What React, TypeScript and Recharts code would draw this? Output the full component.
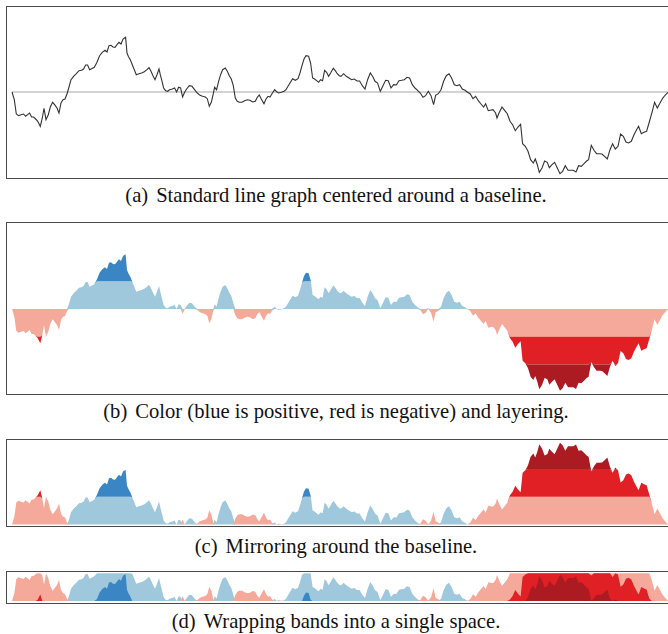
import React from 'react';
import { LineChart, Line, AreaChart, Area, XAxis, YAxis, ReferenceLine } from 'recharts';

// sample positions (time axis) and values
const t = [
  11.7, 14.0, 16.0, 18.3, 20.7, 23.3, 25.3, 27.3, 29.3, 31.3, 33.3, 35.3, 37.3, 40.0, 42.0, 43.7, 45.7, 48.0, 50.0, 52.3,
  54.3, 56.7, 58.7, 60.7, 62.7, 64.7, 66.7, 68.7, 70.7, 73.3, 76.0, 78.7, 81.3, 83.3, 85.3, 87.3, 89.3, 91.3, 94.0, 96.7,
  99.3, 102.0, 104.7, 106.7, 108.7, 110.7, 112.7, 114.7, 116.7, 118.7, 120.7, 122.7, 125.3, 126.7, 128.0, 130.0, 132.0, 134.0, 136.0, 138.7,
  141.3, 144.0, 146.7, 148.7, 150.7, 152.7, 154.7, 156.7, 158.7, 160.0, 161.3, 163.3, 165.3, 167.3, 169.3, 172.0, 174.3, 176.3, 178.3, 180.3,
  182.3, 184.3, 186.3, 189.0, 191.7, 194.3, 197.0, 199.7, 202.3, 205.0, 207.0, 209.0, 211.0, 213.0, 214.3, 216.3, 218.3, 220.3, 222.3, 225.0,
  227.0, 229.0, 231.0, 233.0, 235.0, 237.0, 239.0, 241.7, 244.3, 247.0, 249.7, 252.3, 255.0, 257.0, 259.0, 261.0, 263.7, 265.7, 267.7, 269.7,
  271.7, 274.3, 276.3, 278.3, 281.0, 283.7, 285.7, 287.7, 289.7, 292.3, 295.0, 297.7, 299.7, 301.7, 303.7, 305.7, 308.3, 310.3, 312.3, 314.3,
  316.3, 318.3, 320.3, 322.3, 324.3, 326.3, 328.3, 330.3, 333.0, 335.0, 337.0, 339.0, 340.7, 343.3, 346.0, 348.7, 351.3, 354.0, 356.7, 359.3,
  362.0, 364.7, 367.3, 370.0, 372.7, 374.7, 377.3, 380.0, 382.7, 385.3, 388.0, 390.7, 393.3, 396.0, 398.7, 401.3, 404.0, 406.7, 409.3, 412.0,
  414.7, 417.3, 420.0, 422.7, 425.3, 428.0, 430.7, 433.3, 435.3, 438.0, 440.7, 443.3, 446.0, 448.7, 451.3, 454.0, 456.7, 459.3, 462.0, 464.7,
  467.3, 470.0, 472.7, 475.3, 478.0, 480.7, 483.3, 485.3, 488.0, 490.0, 492.7, 495.3, 496.7, 498.7, 501.7, 504.3, 507.0, 509.7, 512.3, 515.0,
  517.7, 520.3, 522.3, 525.0, 527.7, 530.3, 533.0, 535.0, 537.0, 539.0, 541.7, 544.3, 547.0, 549.0, 551.7, 554.3, 557.0, 559.7, 562.3, 565.0,
  567.7, 570.3, 573.0, 575.7, 578.3, 581.0, 583.7, 586.3, 588.3, 591.0, 593.7, 596.3, 599.0, 601.7, 604.3, 607.0, 609.7, 612.3, 615.0, 617.7,
  620.3, 623.0, 625.7, 628.3, 631.0, 633.7, 636.3, 638.3, 641.0, 643.7, 646.3, 649.0, 651.7, 654.3, 657.0, 659.7, 662.3, 665.0, 667.7,
];

const values = [
  0, -7.7, -22.0, -23.7, -22.7, -22.0, -24.3, -22.7, -21.0, -25.0, -25.0, -27.0, -29.0, -34.3, -26.0, -16.3, -27.7, -22.7, -15.0, -10.3,
  -12.7, -16.0, -21.0, -11.0, -7.7, -7.0, -2.0, 5.0, 12.3, 15.7, 18.3, 21.3, 21.7, 23.0, 27.0, 27.0, 22.3, 23.3, 24.7, 29.7,
  36.3, 39.7, 41.7, 40.0, 46.3, 46.7, 45.0, 44.7, 47.3, 49.7, 48.0, 53.0, 54.7, 39.0, 35.7, 32.3, 27.3, 22.3, 17.3, 18.3,
  19.0, 20.3, 22.3, 24.3, 20.7, 16.3, 12.3, 17.3, 23.0, 17.3, 12.3, 4.0, 1.3, 0.7, 2.3, 3.0, 4.0, 0.0, 4.7, 4.0,
  -5.0, -0.3, 3.0, 6.3, 5.7, 2.3, -1.0, -3.3, -4.3, -5.0, -6.7, -14.3, -10.3, -1.7, 4.7, 2.3, 10.7, 17.3, 22.3, 24.0,
  20.7, 16.3, 13.0, 6.3, -6.0, -9.3, -10.3, -10.3, -8.7, -7.7, -8.3, -10.0, -9.3, -5.3, -3.0, -7.0, -11.7, -7.0, -4.3, -5.0,
  -1.7, 2.3, 0.3, -1.0, -0.3, 0.7, 2.3, 5.7, 9.0, 13.3, 11.7, 13.3, 19.0, 26.3, 33.0, 36.3, 35.7, 29.0, 14.0, 13.0,
  11.3, 9.7, 12.3, 11.3, 21.7, 19.7, 15.7, 19.0, 23.7, 21.3, 18.3, 16.3, 15.7, 18.3, 15.7, 14.0, 12.3, 13.0, 11.0, 11.0,
  6.3, 3.0, 12.3, 19.0, 15.0, 10.7, 9.0, 0.7, 6.3, 11.7, 11.3, 4.0, 7.3, 7.0, 11.3, 11.7, 12.3, 14.7, 14.0, 7.3,
  4.0, 1.7, -1.0, -5.3, -3.7, 0.7, -3.7, -12.7, -3.3, -1.7, 2.3, 10.7, 16.3, 18.3, 14.0, 7.3, 6.3, 7.3, 3.0, 1.7,
  -0.3, -2.0, -6.7, -4.3, -8.7, -12.0, -15.0, -11.7, -18.7, -18.3, -17.7, -21.0, -26.0, -21.0, -15.0, -18.3, -21.7, -29.3, -32.7, -38.7,
  -35.0, -32.3, -51.7, -54.3, -59.3, -67.7, -71.0, -67.0, -72.7, -80.3, -76.0, -69.0, -70.3, -75.7, -72.7, -70.3, -76.0, -81.7, -79.3, -73.7,
  -78.3, -78.3, -78.3, -80.0, -73.7, -74.3, -71.7, -69.0, -67.7, -53.3, -58.3, -61.7, -61.7, -62.0, -64.3, -67.0, -57.7, -51.7, -57.0, -54.3,
  -42.0, -44.3, -50.0, -51.0, -49.3, -42.7, -37.7, -34.3, -41.7, -40.3, -39.3, -30.0, -20.3, -10.3, -16.0, -11.0, -6.3, -3.0, -0.3,
];

const BAND = 27.7;
const RANGE = 85;

const blues = ['#9fc8dd', '#3a86c4'];
const reds = ['#f5a99b', '#e02025', '#ad1b22'];

const clamp = (x: number) => Math.max(0, Math.min(BAND, x));

const rows = t.map((tt, i) => {
  const v = values[i];
  return {
    t: tt,
    v,
    p0: clamp(v),
    p1: clamp(v - BAND),
    n0: clamp(-v),
    n1: clamp(-v - BAND),
    n2: clamp(-v - 2 * BAND),
    m0: -clamp(-v),
    m1: -clamp(-v - BAND),
    m2: -clamp(-v - 2 * BAND),
  };
});

const boxStyle = (top: number, height: number): React.CSSProperties => ({
  position: 'absolute',
  left: 6,
  top,
  width: 670,
  height,
  boxSizing: 'border-box',
  border: '1.6px solid #4a4a4a',
});

const captionStyle = (top: number): React.CSSProperties => ({
  position: 'absolute',
  left: 0,
  top,
  width: 672,
  textAlign: 'center',
  fontFamily: '"Liberation Serif", "Times New Roman", serif',
  fontSize: 20.6,
  lineHeight: '24px',
  color: '#111',
});

const Caption = ({ tag, text, top }: { tag: string; text: string; top: number }) => (
  <div style={captionStyle(top)}>
    <span style={{ marginRight: 8 }}>{tag}</span>
    {text}
  </div>
);

const xAxis = <XAxis type="number" dataKey="t" domain={['dataMin', 'dataMax']} hide />;

export default function App() {
  return (
    <div style={{ position: 'absolute', left: 0, top: 0, width: 668, height: 634, overflow: 'hidden', background: '#fff' }}>
      {/* (a) line graph */}
      <div style={boxStyle(6, 173)} />
      <div style={{ position: 'absolute', left: 0, top: 0 }}>
        <LineChart width={668} height={180} data={rows} margin={{ top: 7, right: 0, bottom: 3, left: 12 }}>
          {xAxis}
          <YAxis hide domain={[-RANGE, RANGE]} />
          <ReferenceLine y={0} stroke="#c4c4c4" strokeWidth={1.5} />
          <Line type="linear" dataKey="v" stroke="#333" strokeWidth={1.1} dot={false} isAnimationActive={false} />
        </LineChart>
      </div>
      <Caption tag="(a)" text="Standard line graph centered around a baseline." top={183} />

      {/* (b) colour + layering */}
      <div style={boxStyle(222, 173)} />
      <div style={{ position: 'absolute', left: 0, top: 220 }}>
        <AreaChart width={668} height={180} data={rows} margin={{ top: 4, right: 0, bottom: 6, left: 12 }}>
          {xAxis}
          <YAxis hide domain={[-RANGE, RANGE]} />
          <Area type="linear" dataKey="p0" stackId="p" stroke="none" fill={blues[0]} fillOpacity={1} isAnimationActive={false} />
          <Area type="linear" dataKey="p1" stackId="p" stroke="none" fill={blues[1]} fillOpacity={1} isAnimationActive={false} />
          <Area type="linear" dataKey="m0" stackId="n" stroke="none" fill={reds[0]} fillOpacity={1} isAnimationActive={false} />
          <Area type="linear" dataKey="m1" stackId="n" stroke="none" fill={reds[1]} fillOpacity={1} isAnimationActive={false} />
          <Area type="linear" dataKey="m2" stackId="n" stroke="none" fill={reds[2]} fillOpacity={1} isAnimationActive={false} />
        </AreaChart>
      </div>
      <Caption tag="(b)" text="Color (blue is positive, red is negative) and layering." top={399} />

      {/* (c) mirroring */}
      <div style={boxStyle(439, 88)} />
      <div style={{ position: 'absolute', left: 0, top: 435 }}>
        <AreaChart width={668} height={95} data={rows} margin={{ top: 4.5, right: 0, bottom: 5.5, left: 12 }}>
          {xAxis}
          <YAxis hide domain={[0, RANGE]} />
          <Area type="linear" dataKey="p0" stackId="p" stroke="none" fill={blues[0]} fillOpacity={1} isAnimationActive={false} />
          <Area type="linear" dataKey="p1" stackId="p" stroke="none" fill={blues[1]} fillOpacity={1} isAnimationActive={false} />
          <Area type="linear" dataKey="n0" stackId="n" stroke="none" fill={reds[0]} fillOpacity={1} isAnimationActive={false} />
          <Area type="linear" dataKey="n1" stackId="n" stroke="none" fill={reds[1]} fillOpacity={1} isAnimationActive={false} />
          <Area type="linear" dataKey="n2" stackId="n" stroke="none" fill={reds[2]} fillOpacity={1} isAnimationActive={false} />
        </AreaChart>
      </div>
      <Caption tag="(c)" text="Mirroring around the baseline." top={534} />

      {/* (d) wrapped bands */}
      <div style={boxStyle(571, 33)} />
      <div style={{ position: 'absolute', left: 0, top: 565 }}>
        <AreaChart width={668} height={40} data={rows} margin={{ top: 8.3, right: 0, bottom: 4, left: 12 }}>
          {xAxis}
          <YAxis hide domain={[0, BAND]} />
          <Area type="linear" dataKey="p0" stroke="none" fill={blues[0]} fillOpacity={1} isAnimationActive={false} />
          <Area type="linear" dataKey="n0" stroke="none" fill={reds[0]} fillOpacity={1} isAnimationActive={false} />
          <Area type="linear" dataKey="p1" stroke="none" fill={blues[1]} fillOpacity={1} isAnimationActive={false} />
          <Area type="linear" dataKey="n1" stroke="none" fill={reds[1]} fillOpacity={1} isAnimationActive={false} />
          <Area type="linear" dataKey="n2" stroke="none" fill={reds[2]} fillOpacity={1} isAnimationActive={false} />
        </AreaChart>
      </div>
      <Caption tag="(d)" text="Wrapping bands into a single space." top={609} />
    </div>
  );
}
